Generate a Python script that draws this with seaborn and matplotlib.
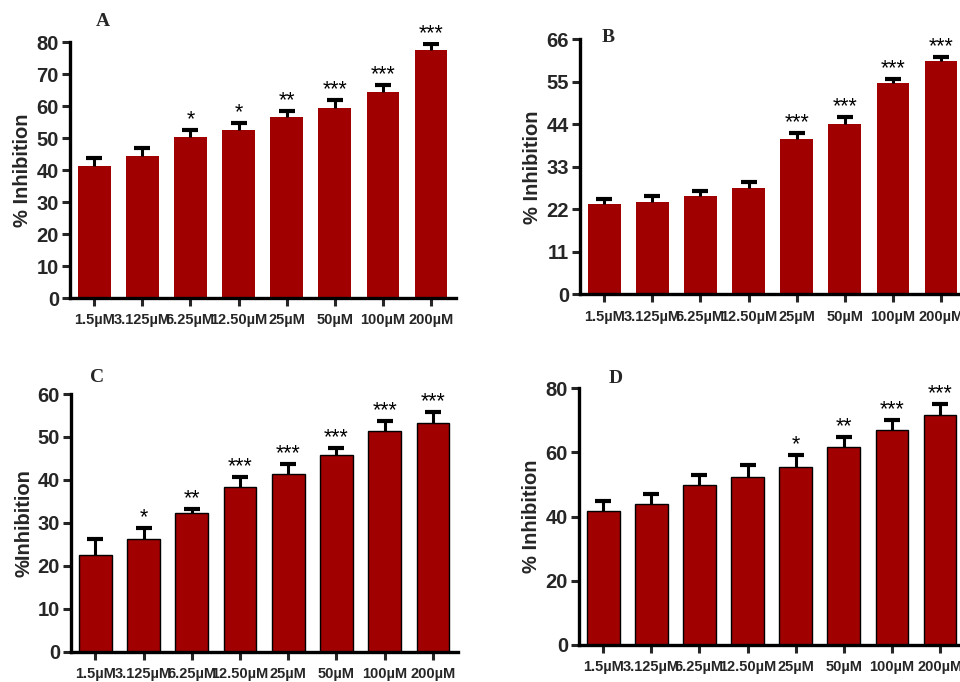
import numpy as np
import pandas as pd
import matplotlib
matplotlib.use("Agg")
import matplotlib.pyplot as plt
import seaborn as sns

sns.set_style("white")
plt.rcParams["font.family"] = ["Liberation Sans", "DejaVu Sans"]

# Concentrations tested
concentrations = ["1.5µM", "3.125µM", "6.25µM", "12.50µM", "25µM", "50µM", "100µM", "200µM"]

# Panel A
inhib_a = [41.3, 44.4, 50.3, 52.5, 56.6, 59.4, 64.4, 77.5]
sem_a = [2.3, 2.5, 2.1, 2.2, 1.8, 2.4, 2.3, 1.9]
sig_a = ["", "", "*", "*", "**", "***", "***", "***"]

# Panel B
inhib_b = [23.4, 23.9, 25.4, 27.5, 40.2, 44.1, 54.7, 60.4]
sem_b = [1.2, 1.5, 1.4, 1.6, 1.5, 1.8, 1.1, 0.9]
sig_b = ["", "", "", "", "***", "***", "***", "***"]

# Panel C
inhib_c = [22.4, 26.3, 32.4, 38.4, 41.3, 45.9, 51.3, 53.3]
sem_c = [3.8, 2.4, 0.9, 2.3, 2.4, 1.6, 2.4, 2.4]
sig_c = ["", "*", "**", "***", "***", "***", "***", "***"]

# Panel D
inhib_d = [41.9, 43.9, 49.8, 52.3, 55.4, 61.8, 66.9, 71.7]
sem_d = [3.1, 3.1, 3.1, 3.9, 3.8, 3.1, 3.1, 3.3]
sig_d = ["", "", "", "", "*", "**", "***", "***"]

BAR_COLOR = "#a00000"

fig = plt.figure(figsize=(9.6, 6.82), dpi=100)

panels = [
    # letter, values, sem, stars, ylabel, yticks, rect, edge, letter pos
    ("A", inhib_a, sem_a, sig_a, "% Inhibition", [0, 10, 20, 30, 40, 50, 60, 70, 80],
     [70 / 960, 1 - 298 / 682, 386 / 960, 256 / 682], False, (103, 22)),
    ("B", inhib_b, sem_b, sig_b, "% Inhibition", [0, 11, 22, 33, 44, 55, 66],
     [580 / 960, 1 - 294.3 / 682, 386 / 960, 255 / 682], False, (608, 37)),
    ("C", inhib_c, sem_c, sig_c, "%Inhibition", [0, 10, 20, 30, 40, 50, 60],
     [71 / 960, 1 - 651.7 / 682, 387 / 960, 257.7 / 682], True, (97, 378)),
    ("D", inhib_d, sem_d, sig_d, "% Inhibition", [0, 20, 40, 60, 80],
     [579 / 960, 1 - 645 / 682, 386 / 960, 256.7 / 682], True, (616, 379)),
]

for letter, vals, sem, stars, ylab, yticks, rect, edged, lpos in panels:
    ax = fig.add_axes(rect)
    df = pd.DataFrame({"conc": concentrations, "inhibition": vals})
    sns.barplot(data=df, x="conc", y="inhibition", color=BAR_COLOR, saturation=1,
                width=0.68, errorbar=None, ax=ax,
                edgecolor="black" if edged else BAR_COLOR,
                linewidth=1.0 if edged else 0)
    xpos = np.arange(len(vals))
    # upper-only SEM bars (hide the lower cap)
    _, caps, _ = ax.errorbar(xpos, vals, yerr=[np.zeros(len(sem)), sem], fmt="none",
                             ecolor="black", elinewidth=2.2, capsize=6, capthick=3,
                             zorder=3)
    caps[0].set_visible(False)
    for x, v, s, st in zip(xpos, vals, sem, stars):
        if st:
            ax.annotate(st, (x, v + s), xytext=(0, 3.5), textcoords="offset points",
                        ha="center", va="baseline", fontsize=15.5, color="black")
    ax.set_ylim(yticks[0], yticks[-1])
    ax.set_yticks(yticks)
    ax.set_xlim(-0.505, 7.52)
    ax.set_xlabel("")
    ax.set_ylabel(ylab, fontsize=14.5, fontweight="bold", labelpad=3)
    for side in ["top", "right"]:
        ax.spines[side].set_visible(False)
    for side in ["left", "bottom"]:
        ax.spines[side].set_linewidth(2.4)
        ax.spines[side].set_color("black")
    ax.tick_params(axis="y", which="major", direction="out", length=6, width=2.2,
                   labelsize=14.5, pad=2, left=True)
    ax.tick_params(axis="x", which="major", direction="out", length=6, width=2.2,
                   labelsize=10.5, pad=5, bottom=True)
    for lbl in ax.get_yticklabels() + ax.get_xticklabels():
        lbl.set_fontweight("bold")
    fig.text(lpos[0] / 960, 1 - lpos[1] / 682, letter, fontsize=14,
             fontweight="bold", family="Liberation Serif", ha="center", va="center")

fig.savefig("out.png", dpi=100)
